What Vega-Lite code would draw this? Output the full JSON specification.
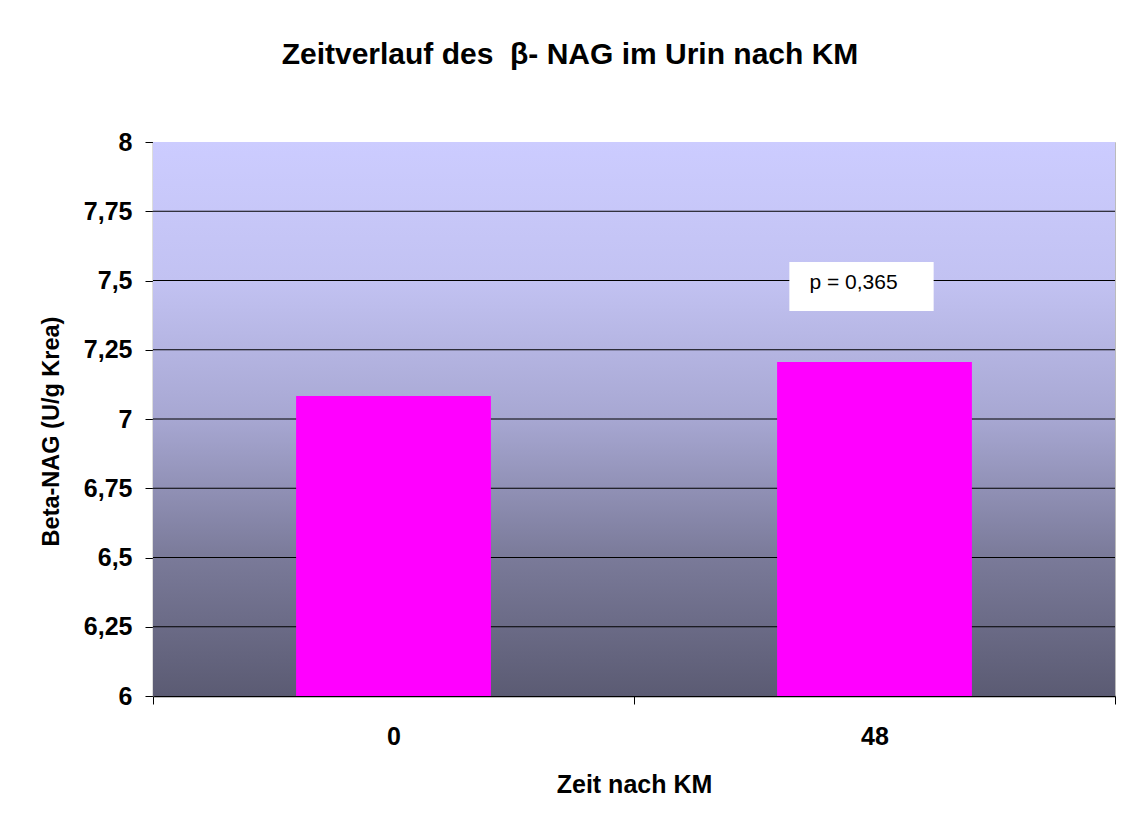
{
  "$schema": "https://vega.github.io/schema/vega-lite/v6.json",
  "width": 962,
  "height": 554,
  "autosize": {"type": "none"},
  "padding": {"left": 153, "top": 142, "right": 11, "bottom": 127},
  "background": "white",
  "title": {
    "text": "Zeitverlauf des\u00a0 β- NAG im Urin nach KM",
    "font": "Liberation Sans",
    "fontSize": 30,
    "fontWeight": "bold",
    "color": "black",
    "anchor": "middle",
    "dx": -64,
    "offset": 60
  },
  "config": {
    "font": "Liberation Sans",
    "view": {"stroke": "#BBBBBB", "strokeWidth": 1}
  },
  "datasets": {
    "bars": [
      {"Zeit": "0", "NAG": 7.083},
      {"Zeit": "48", "NAG": 7.206}
    ],
    "grid": [
      {"g": 6.25}, {"g": 6.5}, {"g": 6.75}, {"g": 7}, {"g": 7.25}, {"g": 7.5}, {"g": 7.75}
    ],
    "note": [
      {"Zeit": "48", "lo": 7.39, "hi": 7.567, "mid": 7.491, "label": "p = 0,365"}
    ]
  },
  "layer": [
    {
      "data": {"name": "grid"},
      "mark": {
        "type": "rect",
        "fill": {
          "gradient": "linear",
          "x1": 0, "y1": 0, "x2": 0, "y2": 1,
          "stops": [
            {"offset": 0, "color": "#CCCCFF"},
            {"offset": 0.25, "color": "#C2C2F2"},
            {"offset": 0.5, "color": "#A7A7D2"},
            {"offset": 0.75, "color": "#7A7A99"},
            {"offset": 1, "color": "#5B5B73"}
          ]
        }
      },
      "encoding": {
        "y": {"datum": 8, "type": "quantitative"},
        "y2": {"datum": 6}
      }
    },
    {
      "data": {"name": "grid"},
      "mark": {"type": "rule", "color": "black", "strokeWidth": 1.2},
      "encoding": {
        "y": {"field": "g", "type": "quantitative"}
      }
    },
    {
      "data": {"name": "bars"},
      "mark": {"type": "bar", "color": "#FF00FF", "width": {"band": 0.405}},
      "encoding": {
        "x": {
          "field": "Zeit",
          "type": "nominal",
          "sort": null,
          "scale": {"paddingInner": 0, "paddingOuter": 0},
          "axis": {
            "title": "Zeit nach KM",
            "titleFont": "Liberation Sans",
            "titleFontSize": 25,
            "titleFontWeight": "bold",
            "titleColor": "black",
            "titlePadding": 23,
            "labelFont": "Liberation Sans",
            "labelFontSize": 25,
            "labelFontWeight": "bold",
            "labelColor": "black",
            "labelAngle": 0,
            "labelPadding": 20,
            "tickBand": "extent",
            "tickSize": 8,
            "tickColor": "black",
            "domainColor": "black",
            "domainWidth": 1.5
          }
        },
        "y": {
          "field": "NAG",
          "type": "quantitative",
          "scale": {"domain": [6, 8], "zero": false, "nice": false},
          "axis": {
            "title": "Beta-NAG (U/g Krea)",
            "titleFont": "Liberation Sans",
            "titleFontSize": 23.5,
            "titleFontWeight": "bold",
            "titleColor": "black",
            "titlePadding": 20,
            "titleY": 289,
            "values": [6, 6.25, 6.5, 6.75, 7, 7.25, 7.5, 7.75, 8],
            "labelExpr": "replace(format(datum.value, ''), '.', ',')",
            "labelFont": "Liberation Sans",
            "labelFontSize": 25,
            "labelFontWeight": "bold",
            "labelColor": "black",
            "labelPadding": 13,
            "tickSize": 8,
            "tickColor": "black",
            "domainColor": "#777777",
            "domainWidth": 1.5,
            "grid": false
          }
        },
        "y2": {"datum": 6}
      }
    },
    {
      "data": {"name": "note"},
      "mark": {"type": "bar", "color": "white", "width": {"band": 0.3}, "xOffset": -13},
      "encoding": {
        "x": {"field": "Zeit", "type": "nominal", "sort": null},
        "y": {"field": "hi", "type": "quantitative"},
        "y2": {"field": "lo"}
      }
    },
    {
      "data": {"name": "note"},
      "mark": {"type": "text", "font": "Liberation Sans", "fontSize": 21, "color": "black", "dx": -21, "baseline": "middle", "align": "center"},
      "encoding": {
        "x": {"field": "Zeit", "type": "nominal", "sort": null},
        "y": {"field": "mid", "type": "quantitative"},
        "text": {"field": "label"}
      }
    }
  ]
}
